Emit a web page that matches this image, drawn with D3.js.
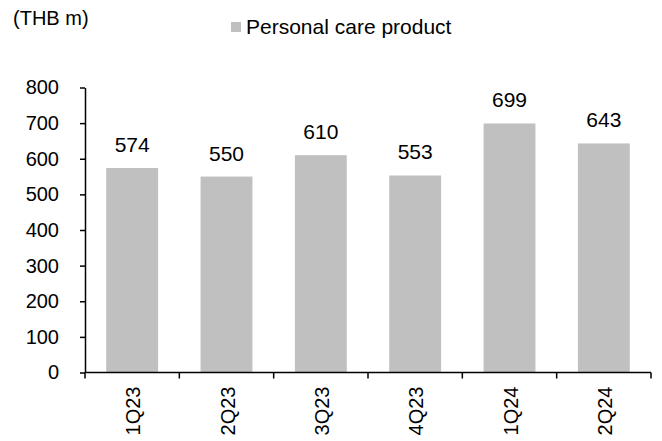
<!DOCTYPE html>
<html>
<head>
<meta charset="utf-8">
<script src="https://cdn.jsdelivr.net/npm/d3@7"></script>
<style>
  html, body { margin: 0; padding: 0; background: #fff; }
  svg { display: block; font-family: "Liberation Sans", Arial, sans-serif; }
</style>
</head>
<body>
<svg id="chart" width="662" height="441"></svg>
<script>
const quarters = ["1Q23", "2Q23", "3Q23", "4Q23", "1Q24", "2Q24"];
const personalCare = [574, 550, 610, 553, 699, 643];
const yTicks = [0, 100, 200, 300, 400, 500, 600, 700, 800];
const seriesName = "Personal care product";
const unitLabel = "(THB m)";

const svg = d3.select("#chart");
const margin = { left: 85, right: 11, top: 87.5, bottom: 68.5 };
const W = 662, H = 441;
const barColor = "#c0c0c0";
const fontFamily = "Liberation Sans, Arial, sans-serif";

const x = d3.scaleBand()
  .domain(quarters)
  .range([margin.left, W - margin.right])
  .paddingInner(0.45)
  .paddingOuter(0.225);

const y = d3.scaleLinear()
  .domain([0, 800])
  .range([H - margin.bottom, margin.top]);

// Bars
svg.append("g")
  .selectAll("rect")
  .data(quarters)
  .join("rect")
  .attr("x", d => x(d))
  .attr("width", x.bandwidth())
  .attr("y", (d, i) => y(personalCare[i]))
  .attr("height", (d, i) => y(0) - y(personalCare[i]))
  .attr("fill", barColor);

// Value labels above bars
svg.append("g")
  .selectAll("text")
  .data(quarters)
  .join("text")
  .attr("x", d => x(d) + x.bandwidth() / 2)
  .attr("y", (d, i) => y(personalCare[i]) - 16)
  .attr("text-anchor", "middle")
  .attr("font-size", 21)
  .attr("fill", "#000")
  .text((d, i) => personalCare[i]);

// Y axis
const yAxis = svg.append("g")
  .attr("transform", `translate(${margin.left},0)`)
  .call(d3.axisLeft(y).tickValues(yTicks).tickSize(5).tickPadding(21).tickSizeOuter(0));
yAxis.selectAll("text").attr("font-size", 20).attr("fill", "#000").attr("font-family", fontFamily);
yAxis.selectAll("line, path").attr("stroke", "#000").attr("stroke-width", 1.5);

// X axis with ticks at category boundaries
const xAxisG = svg.append("g").attr("transform", `translate(0,${y(0)})`);
xAxisG.append("line")
  .attr("x1", margin.left).attr("x2", W - margin.right)
  .attr("y1", 0).attr("y2", 0)
  .attr("stroke", "#000").attr("stroke-width", 1.5);
const step = x.step();
const start = x(quarters[0]) - step * x.paddingOuter();
const bounds = d3.range(quarters.length + 1).map(i => start + i * step);
xAxisG.selectAll("line.tick")
  .data(bounds)
  .join("line")
  .attr("class", "tick")
  .attr("x1", d => d).attr("x2", d => d)
  .attr("y1", 0).attr("y2", 6)
  .attr("stroke", "#000").attr("stroke-width", 1.5);
xAxisG.selectAll("text")
  .data(quarters)
  .join("text")
  .attr("transform", d => `translate(${x(d) + x.bandwidth() / 2 + 8},14) rotate(-90)`)
  .attr("text-anchor", "end")
  .attr("font-size", 20)
  .attr("fill", "#000")
  .text(d => d);

// Unit label
svg.append("text")
  .attr("x", 13).attr("y", 25)
  .attr("font-size", 20)
  .attr("fill", "#000")
  .text(unitLabel);

// Legend
svg.append("rect")
  .attr("x", 231).attr("y", 22)
  .attr("width", 10).attr("height", 10)
  .attr("fill", barColor);
svg.append("text")
  .attr("x", 246).attr("y", 34)
  .attr("font-size", 21)
  .attr("fill", "#000")
  .text(seriesName);
</script>
</body>
</html>
